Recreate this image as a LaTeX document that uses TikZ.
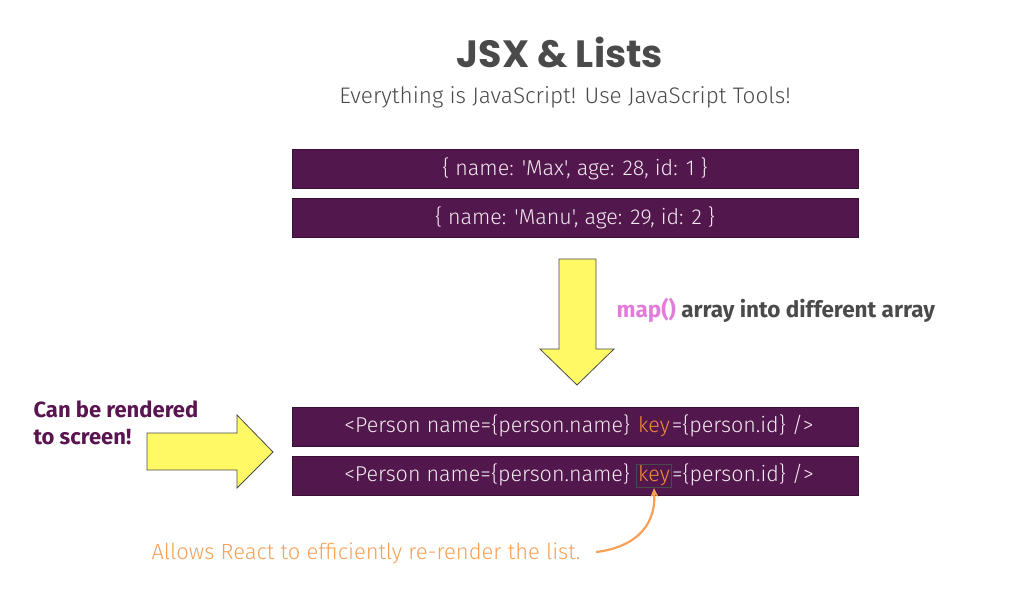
\documentclass[tikz,border=0pt]{standalone}
\usepackage{fontspec}
\setmainfont{Fira Sans}
\newfontfamily\titlefont{Poppins}
\newfontfamily\lightfont{Fira Sans Light}
\usepackage{xcolor}
\usetikzlibrary{arrows.meta,positioning,calc}

\definecolor{listpurple}{HTML}{52174C}
\definecolor{boxedge}{HTML}{3A1035}
\definecolor{codetext}{HTML}{F2E8EF}
\definecolor{keyorange}{HTML}{F08A3C}
\definecolor{noteorange}{HTML}{F7A056}
\definecolor{mappink}{HTML}{E17DD9}
\definecolor{darktext}{HTML}{4A4A4A}
\definecolor{rendertext}{HTML}{5A1450}
\definecolor{arrowyellow}{HTML}{FFF966}

\begin{document}
\begin{tikzpicture}[x=1pt,y=-1pt,
		listbox/.style={fill=listpurple,draw=boxedge,minimum width=566pt,minimum height=39pt,inner sep=0pt},
		code/.style={font=\lightfont\fontsize{21.5}{24}\selectfont,text=codetext,inner sep=0pt},
		keyword/.style={code,text=keyorange,inner sep=1.5pt},
		bigarrow/.style={fill=arrowyellow,draw=darktext,line width=0.8pt,line join=miter}]
	\useasboundingbox (0,0) rectangle (1015,598);
	
	% heading
	\node[font=\titlefont\bfseries\fontsize{38}{42}\selectfont,text=darktext] (title) at (560,52) {JSX \& Lists};
	\node[font=\lightfont\fontsize{22.5}{26}\selectfont,text=darktext] (subtitle) at (565,97) {Everything is JavaScript! Use JavaScript Tools!};
	
	% source array
	\node[listbox] (obj1) at (575,168.5) {};
	\node[listbox] (obj2) at (575,217.5) {};
	\node[code] at (obj1) {\{ name: 'Max', age: 28, id: 1 \}};
	\node[code] at (obj2) {\{ name: 'Manu', age: 29, id: 2 \}};
	
	% map arrow
	\draw[bigarrow] (559,259) -- (596,259) -- (596,349) -- (614,349) -- (577,385)
		-- (540,349) -- (559,349) -- cycle;
	\node[anchor=west,font=\bfseries\fontsize{22.5}{26}\selectfont,text=darktext] (maplabel) at (613,310)
		{\textcolor{mappink}{map()} array into different array};
	
	% rendered elements
	\node[listbox] (elem1) at (575,426.5) {};
	\node[listbox] (elem2) at (575,475.5) {};
	\node[keyword] (key1) at (654,427) {key};
	\node[keyword,draw=darktext,line width=0.8pt] (key2) at (654,476) {key};
	\foreach \k in {1,2}{
		\node[code,anchor=base east] at ([xshift=-6pt]key\k.base west) {<Person name=\{person.name\}};
		\node[code,anchor=base west] at ([xshift=0pt]key\k.base east) {=\{person.id\} />};
	}
	
	% render arrow
	\draw[bigarrow] (147,433) -- (237,433) -- (237,415) -- (273,452) -- (237,488)
		-- (237,470) -- (147,470) -- cycle;
	\node[anchor=north west,align=left,font=\bfseries\fontsize{22}{27}\selectfont,text=rendertext] (render) at (30,397)
		{Can be rendered\\to screen!};
	
	% note on key
	\node[anchor=west,font=\lightfont\fontsize{22}{26}\selectfont,text=noteorange] (note) at (148,553)
		{Allows React to efficiently re-render the list.};
	\draw[noteorange,line width=2.2pt,-{Stealth[length=9pt,width=8pt]}]
		(note.east) ++(12,-1) .. controls (630,548) and (656,530) .. (key2.south);
\end{tikzpicture}
\end{document}
